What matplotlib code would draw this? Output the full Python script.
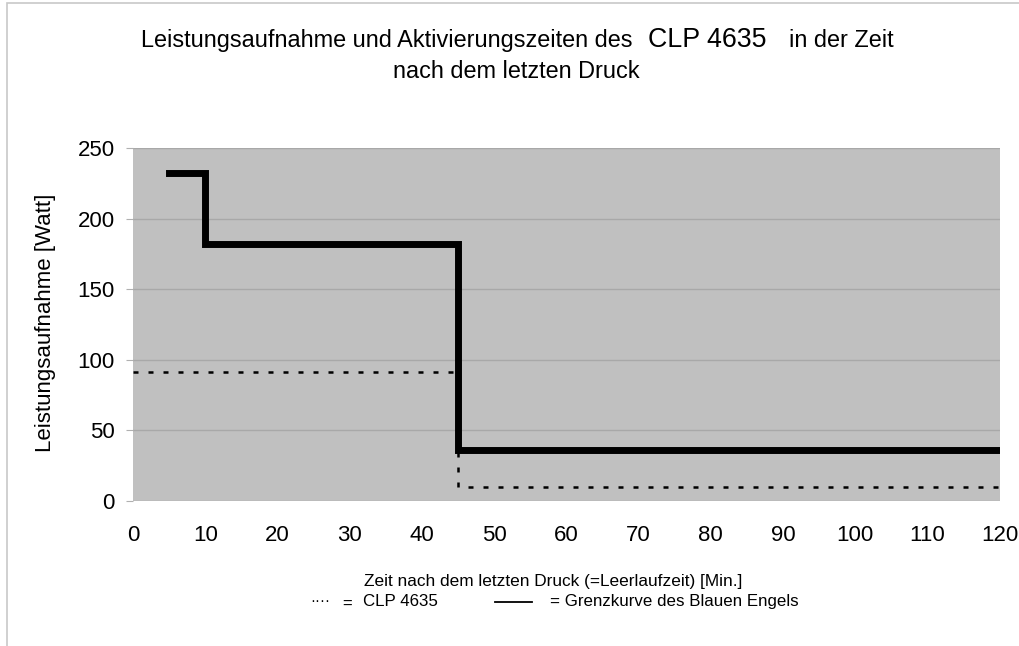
import matplotlib
matplotlib.use("Agg")
import matplotlib.pyplot as plt
from matplotlib.patches import Rectangle

plt.rcParams['font.family'] = ['Liberation Sans', 'DejaVu Sans']

# Grenzkurve des Blauen Engels (step curve)
grenz_x = [5, 10, 45, 120]
grenz_y = [232, 182, 36, 36]
# CLP 4635 measured
clp_x = [0, 45, 120]
clp_y = [91, 10, 10]

xticks = list(range(0, 121, 10))
yticks = [0, 50, 100, 150, 200, 250]

fig = plt.figure(figsize=(10.2, 6.46), dpi=100)
ax = fig.add_axes([0.1304, 0.2245, 0.8496, 0.5464])
ax.set_facecolor('#c0c0c0')

ax.plot(clp_x, clp_y, drawstyle='steps-post', color='black', lw=1.8,
        linestyle=(0, (2, 4)), zorder=3)
ax.plot(grenz_x, grenz_y, drawstyle='steps-post', color='black', lw=5,
        solid_joinstyle='miter', zorder=4)

ax.set_xlim(0, 120)
ax.set_ylim(0, 250)
ax.set_xticks(xticks)
ax.set_yticks(yticks)
ax.grid(axis='y', color='#a8a8a8', lw=1)
ax.set_axisbelow(True)
for s in ax.spines.values():
    s.set_visible(False)
ax.tick_params(axis='y', length=5, color='#b0b0b0', labelsize=16, pad=8)
ax.tick_params(axis='x', length=0, labelsize=16, pad=17)

fig.text(46 / 1020, 0.500, 'Leistungsaufnahme [Watt]', fontsize=16, rotation=90,
         ha='center', va='center')

# title in pieces (the model name is larger)
fig.text(0.138, 0.9272, 'Leistungsaufnahme und Aktivierungszeiten des', fontsize=16.9,
         ha='left', va='baseline')
fig.text(0.6353, 0.9272, 'CLP 4635', fontsize=19.3, ha='left', va='baseline')
fig.text(0.7735, 0.9272, 'in der Zeit', fontsize=16.9, ha='left', va='baseline')
fig.text(0.506, 0.8793, 'nach dem letzten Druck', fontsize=16.9, ha='center', va='baseline')

# x label and hand-made legend
fig.text(0.542, 0.1006, 'Zeit nach dem letzten Druck (=Leerlaufzeit) [Min.]', fontsize=12.4,
         ha='center', va='center')
fig.text(0.304, 0.064, '····', fontsize=11, ha='left', va='baseline')
fig.text(0.336, 0.057, '=', fontsize=12, ha='left', va='baseline')
fig.text(0.356, 0.0619, 'CLP 4635', fontsize=12.2, ha='left', va='baseline')
fig.lines.append(plt.Line2D([0.485, 0.522], [0.0686, 0.0686], transform=fig.transFigure,
                            color='black', lw=1.3))
fig.text(0.539, 0.0619, '= Grenzkurve des Blauen Engels', fontsize=12.2, ha='left',
         va='baseline')

# outer frame
fig.patches.append(Rectangle((0.007, -0.1), 1.2, 1.095, transform=fig.transFigure,
                             fill=False, edgecolor='#c8c8c8', lw=1.2))

fig.savefig('out.png', dpi=100)
